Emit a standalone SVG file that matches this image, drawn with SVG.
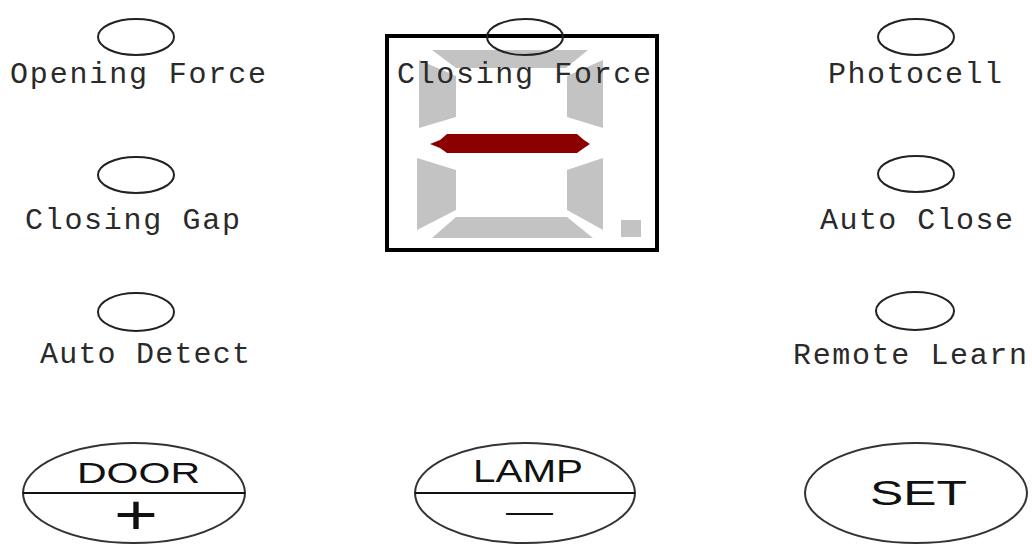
<svg xmlns="http://www.w3.org/2000/svg" width="1032" height="547" viewBox="0 0 1032 547">
<style>
.led{fill:none;stroke:#222;stroke-width:2}
.lbl{font-family:"Liberation Mono","DejaVu Sans Mono",monospace;font-size:30px;fill:#2a2a2a}
.btn{fill:none;stroke:#333;stroke-width:2}
.btxt{font-family:"Liberation Sans",Arial,sans-serif;fill:#111}
.seg{fill:#c3c3c3}
</style>
<rect width="1032" height="547" fill="#fff"/>
<g id="display">
<rect x="387" y="36" width="270" height="214" fill="#fff" stroke="#000" stroke-width="4"/>
<polygon class="seg" points="432,50 588,50 566,68 456,68"/>
<polygon class="seg" points="419,60 456,76 456,117 419,128"/>
<polygon class="seg" points="603,60 567,76 567,117 603,128"/>
<polygon class="seg" points="417,158 456,170 456,210 417,230"/>
<polygon class="seg" points="603,158 567,170 567,210 603,230"/>
<polygon class="seg" points="456,217 567,217 593,238 432,238"/>
<rect class="seg" x="621" y="220" width="20" height="17"/>
<polygon fill="#8b0000" points="430,144 440,140 447,134 577,134 584,140 590,144 584,148 577,153 447,153 440,148"/>
</g>
<g id="opening-force">
<ellipse class="led" cx="136" cy="37" rx="38" ry="18"/>
<text class="lbl" x="10" y="83" textLength="256" lengthAdjust="spacing">Opening Force</text>
</g>
<g id="closing-force">
<ellipse class="led" cx="525" cy="37" rx="38" ry="18"/>
<text class="lbl" x="397" y="83" textLength="254" lengthAdjust="spacing">Closing Force</text>
</g>
<g id="photocell">
<ellipse class="led" cx="916" cy="37" rx="38" ry="18"/>
<text class="lbl" x="828" y="83" textLength="174" lengthAdjust="spacing">Photocell</text>
</g>
<g id="closing-gap">
<ellipse class="led" cx="136" cy="175" rx="38" ry="18"/>
<text class="lbl" x="25" y="229" textLength="215" lengthAdjust="spacing">Closing Gap</text>
</g>
<g id="auto-close">
<ellipse class="led" cx="916" cy="174" rx="38" ry="18"/>
<text class="lbl" x="820" y="229" textLength="193" lengthAdjust="spacing">Auto Close</text>
</g>
<g id="auto-detect">
<ellipse class="led" cx="136" cy="312" rx="38" ry="19"/>
<text class="lbl" x="40" y="363" textLength="210" lengthAdjust="spacing">Auto Detect</text>
</g>
<g id="remote-learn">
<ellipse class="led" cx="915" cy="311" rx="39" ry="19"/>
<text class="lbl" x="793" y="364" textLength="234" lengthAdjust="spacing">Remote Learn</text>
</g>
<g id="door">
<ellipse class="btn" cx="134" cy="493" rx="111" ry="50"/>
<line x1="23" y1="493" x2="245" y2="493" stroke="#111" stroke-width="2"/>
<text class="btxt" x="77" y="483" font-size="30" textLength="123" lengthAdjust="spacingAndGlyphs">DOOR</text>
<text class="btxt" x="114" y="534" font-size="56" textLength="44" lengthAdjust="spacingAndGlyphs">+</text>
</g>
<g id="lamp">
<ellipse class="btn" cx="525" cy="493" rx="110" ry="50"/>
<line x1="415" y1="493" x2="635" y2="493" stroke="#111" stroke-width="2"/>
<text class="btxt" x="473" y="482" font-size="32" textLength="110" lengthAdjust="spacingAndGlyphs">LAMP</text>
<text class="btxt" x="506" y="522" font-size="30" textLength="47" lengthAdjust="spacingAndGlyphs">—</text>
</g>
<g id="set">
<ellipse class="btn" cx="916" cy="493" rx="111" ry="50"/>
<text class="btxt" x="870" y="505" font-size="35" textLength="97" lengthAdjust="spacingAndGlyphs">SET</text>
</g>
<g id="connectors"/>
</svg>
